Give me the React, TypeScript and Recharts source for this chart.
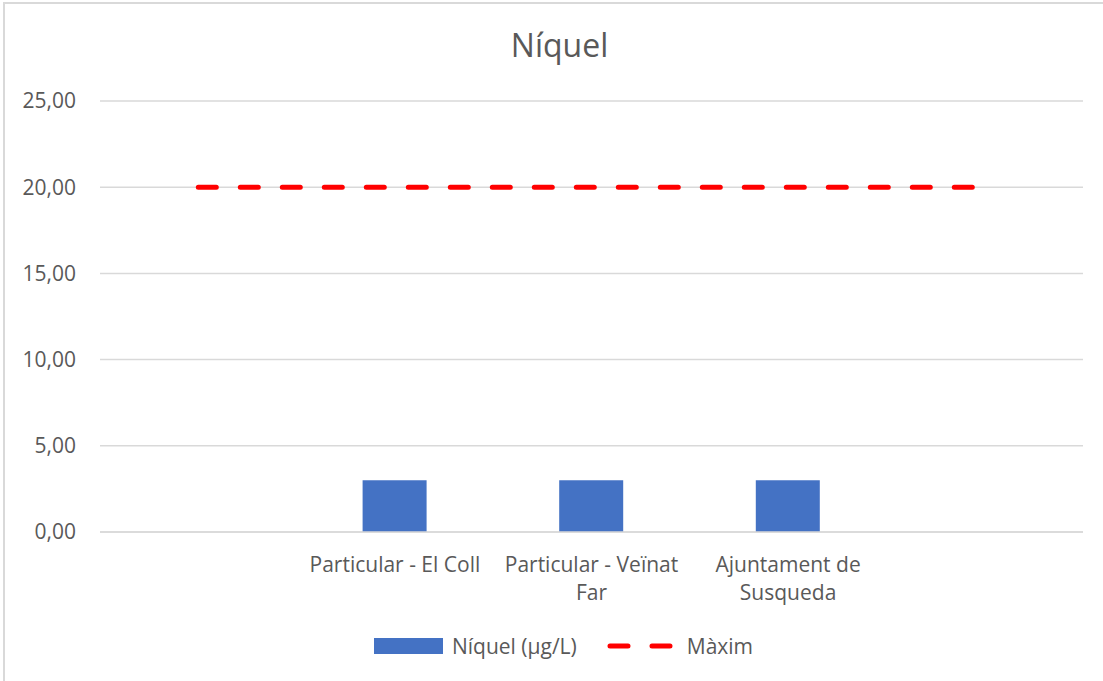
import { ComposedChart, Bar, Line, XAxis, YAxis, CartesianGrid, Legend } from 'recharts';

const categories = ['', 'Particular - El Coll', 'Particular - Veïnat Far', 'Ajuntament de Susqueda', ''];
const niquel = [null, 3, 3, 3, null];
const maxim = [20, 20, 20, 20, 20];
const yTicks = [0, 5, 10, 15, 20, 25];

const data = categories.map((name, i) => ({ name, niquel: niquel[i], maxim: maxim[i] }));

const FONT = '"Open Sans", sans-serif';
const GREY = '#595959';
const TICK_SIZE = 21;

const fmt = (v: number) => v.toFixed(2).replace('.', ',');

// simple word wrap, like Excel does for long category names
let ctx: CanvasRenderingContext2D | null = null;
function wrap(text: string, maxWidth: number) {
  if (!ctx) ctx = document.createElement('canvas').getContext('2d');
  if (!ctx) return [text];
  ctx.font = `${TICK_SIZE}px "Open Sans"`;
  const lines: string[] = [];
  let cur = '';
  for (const w of text.split(' ')) {
    const next = cur ? cur + ' ' + w : w;
    if (cur && ctx.measureText(next).width > maxWidth) {
      lines.push(cur);
      cur = w;
    } else {
      cur = next;
    }
  }
  if (cur) lines.push(cur);
  return lines;
}

function CategoryTick({ x, y, payload }: any) {
  const lines = wrap(payload.value || '', 185);
  return (
    <text x={x} y={y} textAnchor="middle" fill={GREY} fontSize={TICK_SIZE} fontFamily={FONT}>
      {lines.map((l, i) => (
        <tspan key={i} x={x} dy={i === 0 ? 15 : 28}>
          {l}
        </tspan>
      ))}
    </text>
  );
}

function ChartLegend() {
  return (
    <div style={{ display: 'flex', justifyContent: 'center', alignItems: 'center', height: 40, paddingLeft: 44, fontFamily: FONT, fontSize: TICK_SIZE, color: GREY }}>
      <span style={{ display: 'inline-block', width: 69, height: 16, background: '#4472C4', marginRight: 9 }} />
      <span>Níquel (µg/L)</span>
      <svg width={66} height={16} style={{ marginLeft: 30, marginRight: 14 }}>
        <line x1={3} y1={8} x2={63} y2={8} stroke="#FF0000" strokeWidth={5} strokeLinecap="round" strokeDasharray="18 24" />
      </svg>
      <span>Màxim</span>
    </div>
  );
}

export default function App() {
  return (
    <div style={{ position: 'fixed', left: 0, top: 0, width: 1103, height: 681, background: '#fff' }}>
      <div style={{ position: 'absolute', left: 3, top: 2, right: -10, bottom: -10, borderLeft: '2px solid #d9d9d9', borderTop: '2px solid #d9d9d9' }} />
      <div style={{ position: 'absolute', left: 0, top: 29, width: 1119, textAlign: 'center', fontFamily: FONT, fontSize: 32, lineHeight: '32px', color: GREY }}>
        Níquel
      </div>
      <ComposedChart
        width={1103}
        height={681}
        data={data}
        margin={{ top: 101, right: 20, bottom: 15, left: 0 }}
        barCategoryGap={0}
      >
        <CartesianGrid vertical={false} stroke="#d9d9d9" strokeWidth={1.5} />
        <XAxis
          dataKey="name"
          axisLine={{ stroke: '#d9d9d9', strokeWidth: 1.5 }}
          tickLine={false}
          tickSize={0}
          tickMargin={25}
          height={94}
          interval={0}
          tick={<CategoryTick />}
        />
        <YAxis
          domain={[0, 25]}
          ticks={yTicks}
          tickFormatter={fmt}
          axisLine={false}
          tickLine={false}
          tickSize={0}
          tickMargin={24}
          width={100}
          tick={{ fill: GREY, fontSize: TICK_SIZE, fontFamily: FONT }}
        />
        <Legend verticalAlign="bottom" height={40} content={<ChartLegend />} />
        <Bar dataKey="niquel" fill="#4472C4" barSize={64} isAnimationActive={false} />
        <Line
          dataKey="maxim"
          type="linear"
          stroke="#FF0000"
          strokeWidth={5}
          strokeDasharray="18 24"
          strokeLinecap="round"
          dot={false}
          activeDot={false}
          isAnimationActive={false}
        />
      </ComposedChart>
    </div>
  );
}
